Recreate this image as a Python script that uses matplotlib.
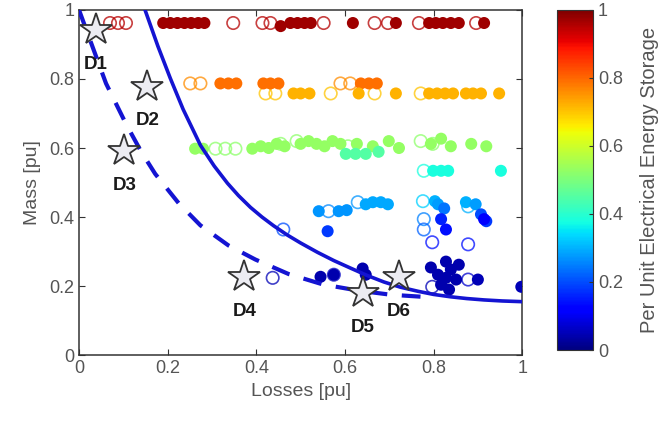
import numpy as np
import matplotlib.pyplot as plt
from matplotlib import cm, colors

plt.rcParams['font.family'] = ['Liberation Sans', 'DejaVu Sans']

# filled designs: losses, mass, per unit EES
loss_f = [0.19, 0.206, 0.222, 0.238, 0.253, 0.269, 0.283, 0.455, 0.477, 0.493, 0.509, 0.523,
          0.618, 0.715, 0.79, 0.805, 0.821, 0.839, 0.857, 0.914,
          0.319, 0.337, 0.355, 0.416, 0.432, 0.45, 0.636, 0.654, 0.672,
          0.484, 0.5, 0.52, 0.631, 0.715, 0.79, 0.808, 0.826, 0.844, 0.873, 0.889, 0.907, 0.948,
          0.262, 0.28, 0.391, 0.41, 0.428, 0.446, 0.464, 0.5, 0.518, 0.536, 0.554, 0.572, 0.59,
          0.627, 0.663, 0.699, 0.722, 0.794, 0.817, 0.839, 0.885, 0.919,
          0.602, 0.624, 0.647, 0.676,
          0.799, 0.817, 0.833, 0.952,
          0.541, 0.586, 0.604, 0.647, 0.663, 0.681, 0.697, 0.803, 0.81, 0.824, 0.873, 0.895, 0.907, 0.919,
          0.561, 0.817, 0.914, 0.828,
          0.545, 0.575, 0.64, 0.647, 0.794, 0.81, 0.828, 0.839, 0.851, 0.817, 0.835, 0.857, 0.828,
          0.9, 0.998]
mass_f = [0.962, 0.962, 0.962, 0.962, 0.962, 0.962, 0.962, 0.953, 0.962, 0.962, 0.962, 0.962,
          0.962, 0.962, 0.962, 0.962, 0.962, 0.962, 0.962, 0.962,
          0.787, 0.787, 0.787, 0.787, 0.787, 0.787, 0.787, 0.787, 0.787,
          0.758, 0.758, 0.758, 0.758, 0.758, 0.758, 0.758, 0.758, 0.758, 0.758, 0.758, 0.758, 0.758,
          0.598, 0.598, 0.598, 0.605, 0.6, 0.612, 0.605, 0.612, 0.62, 0.612, 0.605, 0.62, 0.612,
          0.612, 0.605, 0.62, 0.6, 0.612, 0.627, 0.605, 0.612, 0.605,
          0.583, 0.583, 0.583, 0.589,
          0.534, 0.534, 0.534, 0.534,
          0.417, 0.417, 0.42, 0.437, 0.443, 0.443, 0.437, 0.446, 0.437, 0.425, 0.443, 0.437, 0.408, 0.388,
          0.359, 0.394, 0.394, 0.364,
          0.227, 0.233, 0.251, 0.233, 0.254, 0.233, 0.271, 0.248, 0.219, 0.204, 0.19, 0.262, 0.224,
          0.219, 0.198]
ees_f = [0.97] * 20 + [0.79] * 9 + [0.72] * 13 + [0.53] * 22 + [0.45] * 4 + [0.38] * 4 + \
        [0.27, 0.27, 0.27, 0.29, 0.29, 0.29, 0.29, 0.3, 0.28, 0.24, 0.3, 0.28, 0.2, 0.18] + \
        [0.18, 0.16, 0.12, 0.14] + [0.04] * 13 + [0.05, 0.05]

# open designs
loss_o = [0.07, 0.088, 0.106, 0.348, 0.414, 0.432, 0.552, 0.667, 0.697, 0.767, 0.896,
          0.251, 0.274, 0.59, 0.612,
          0.421, 0.443, 0.568, 0.667, 0.771,
          0.308, 0.33, 0.353, 0.455, 0.491, 0.771, 0.798, 0.607,
          0.778,
          0.563, 0.629, 0.776, 0.778, 0.778, 0.878,
          0.461, 0.797, 0.878,
          0.437, 0.575, 0.797, 0.878]
mass_o = [0.962] * 11 + [0.787] * 4 + [0.758] * 5 + \
         [0.598, 0.598, 0.598, 0.612, 0.62, 0.62, 0.612, 0.605] + [0.534] + \
         [0.417, 0.443, 0.446, 0.394, 0.364, 0.431] + \
         [0.364, 0.327, 0.321] + [0.224, 0.233, 0.198, 0.219]
ees_o = [0.95] * 11 + [0.76] * 4 + [0.7] * 5 + [0.52] * 8 + [0.38] + \
        [0.26, 0.27, 0.33, 0.25, 0.22, 0.3] + [0.2, 0.14, 0.14] + [0.05, 0.06, 0.05, 0.07]

# fronts
solid_x = [0.14, 0.149, 0.178, 0.206, 0.235, 0.274, 0.305, 0.335, 0.36, 0.387, 0.413, 0.439,
           0.47, 0.5, 0.538, 0.575, 0.613, 0.65, 0.688, 0.725, 0.765, 0.8, 0.839, 0.875,
           0.914, 0.955, 1.0]
solid_y = [1.03, 1.0, 0.895, 0.802, 0.712, 0.608, 0.548, 0.498, 0.462, 0.428, 0.4, 0.375,
           0.348, 0.325, 0.298, 0.274, 0.252, 0.231, 0.212, 0.197, 0.185, 0.176, 0.169, 0.164,
           0.16, 0.157, 0.155]
dash_x = [0.0, 0.02, 0.061, 0.106, 0.14, 0.172, 0.225, 0.274, 0.337, 0.398, 0.473, 0.55,
          0.63, 0.704, 0.776]
dash_y = [1.0, 0.93, 0.787, 0.67, 0.59, 0.525, 0.44, 0.376, 0.318, 0.277, 0.235, 0.205,
          0.187, 0.175, 0.169]

# selected designs
d_names = ['D1', 'D2', 'D3', 'D4', 'D5', 'D6']
d_loss = [0.038, 0.154, 0.102, 0.373, 0.64, 0.722]
d_mass = [0.942, 0.778, 0.592, 0.227, 0.181, 0.227]

fig = plt.figure(figsize=(6.61, 4.30), dpi=100)
ax = fig.add_axes([0.1195, 0.174, 0.6705, 0.803])
cax = fig.add_axes([0.843, 0.186, 0.054, 0.791])

cmap = plt.get_cmap('jet')
norm = colors.Normalize(0, 1)

ax.scatter(loss_o, mass_o, s=80, facecolors='none', edgecolors=cmap(norm(ees_o)),
           linewidths=1.2, alpha=0.75, zorder=2)
ax.scatter(loss_f, mass_f, s=75, c=ees_f, cmap=cmap, norm=norm, edgecolors='none', zorder=3)

blue = '#1414d2'
ax.plot(solid_x, solid_y, color=blue, lw=2.6, zorder=4)
ax.plot(dash_x, dash_y, color=blue, lw=3, dashes=(4.5, 3.5), zorder=4)

ax.plot(d_loss, d_mass, ls='none', marker='*', ms=24, mfc='#ececf2', mec='#333333', mew=1.3, zorder=5)
for n, x, y in zip(d_names, d_loss, d_mass):
    ax.text(x, y - 0.075, n, ha='center', va='top', fontsize=13.5, fontweight='bold', color='#1a1a1a', zorder=6)

ax.set_xlim(0, 1)
ax.set_ylim(0, 1)
ax.set_xticks([0, 0.2, 0.4, 0.6, 0.8, 1])
ax.set_xticklabels(['0', '0.2', '0.4', '0.6', '0.8', '1'])
ax.set_yticks([0, 0.2, 0.4, 0.6, 0.8, 1])
ax.set_yticklabels(['0', '0.2', '0.4', '0.6', '0.8', '1'])
ax.tick_params(direction='in', top=True, right=True, length=4, labelsize=13, colors='#333333', labelcolor='#555555')
for s in ax.spines.values():
    s.set_color('#333333')
    s.set_linewidth(1.1)
ax.set_xlabel('Losses [pu]', fontsize=14, color='#555555', labelpad=4)
ax.set_ylabel('Mass [pu]', fontsize=14, color='#555555', labelpad=6)

cb = fig.colorbar(cm.ScalarMappable(norm=norm, cmap=cmap), cax=cax)
cb.set_ticks([0, 0.2, 0.4, 0.6, 0.8, 1])
cb.set_ticklabels(['0', '0.2', '0.4', '0.6', '0.8', '1'])
cb.ax.tick_params(direction='in', length=3, labelsize=13, labelcolor='#555555', colors='#333333')
cb.outline.set_edgecolor('#333333')
cb.set_label('Per Unit Electrical Energy Storage', fontsize=14.5, color='#555555', labelpad=12)

fig.savefig('out.png', dpi=100)
